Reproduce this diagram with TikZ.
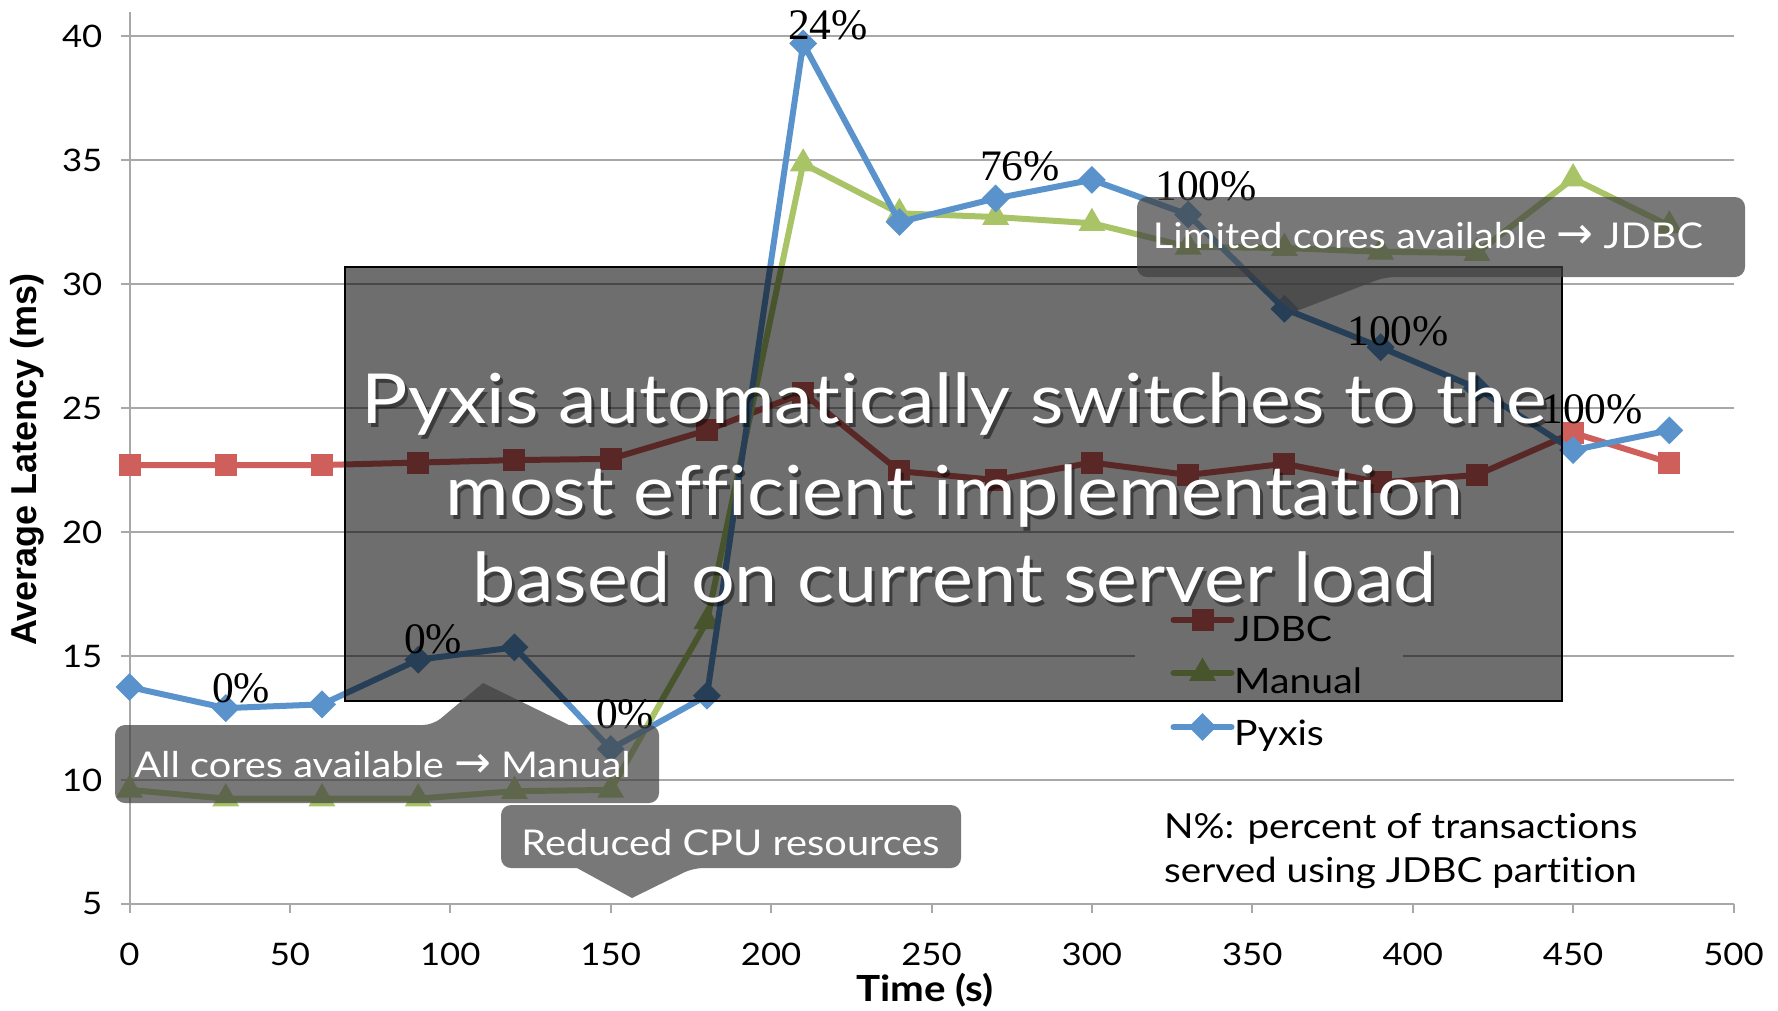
\documentclass[tikz,border=0pt]{standalone}
\usepackage{fontspec}
\setmainfont{Lato}[FakeStretch=1.12, Ligatures=NoCommon]
\newfontfamily\serifnum{Liberation Serif}
\newfontfamily\boldsans{Liberation Sans}
\newfontfamily\arrowfont{DejaVu Sans}
\usetikzlibrary{shapes.geometric}

\definecolor{gridgray}{HTML}{A8A8A8}
\definecolor{jdbcred}{HTML}{CF5F5A}
\definecolor{manualgreen}{HTML}{A8C466}
\definecolor{pyxisblue}{HTML}{5A93CB}

\newcommand\fs[1]{\fontsize{#1}{#1}\selectfont}
\newcommand\rarr{{\arrowfont\fontsize{44}{44}\selectfont\char"2192}}

\tikzset{
  gridline/.style={draw=gridgray, line width=2pt},
  axisline/.style={draw=gridgray, line width=2pt},
  ticklab/.style={inner sep=0pt, font=\fs{31}},
  series/.style={draw=#1, line width=6pt, line join=round},
  sqmark/.style={rectangle, fill=jdbcred, minimum size=22pt, inner sep=0pt},
  trimark/.style={regular polygon, regular polygon sides=3, fill=manualgreen,
    minimum size=31pt, inner sep=0pt},
  dimark/.style={diamond, fill=pyxisblue, minimum size=28pt, inner sep=0pt},
  pct/.style={inner sep=0pt, anchor=base, font=\serifnum\fs{43.5}},
  legtext/.style={inner sep=0pt, anchor=base west, font=\fs{35}},
  bigbox/.style={fill=black, fill opacity=0.57, draw=black, draw opacity=1,
    line width=2pt, inner sep=0pt},
  callout/.style={fill=black!75, fill opacity=0.7, rounded corners=10pt},
  callouttext/.style={inner sep=0pt, anchor=base, text=white, font=\fs{35.5}},
  bigtext/.style={inner sep=0pt, anchor=base, text=white, font=\fs{69}},
  bigshadow/.style={inner sep=0pt, anchor=base, text=black, text opacity=0.45, font=\fs{69}},
  note/.style={inner sep=0pt, anchor=base west, font=\fs{34.5}},
}

\begin{document}
\begin{tikzpicture}[x=1pt, y=-1pt]
\useasboundingbox (0,0) rectangle (1778,1010);
\fill[white] (0,0) rectangle (1778,1010);

% ---------- chart in data units: time (s) across, latency (ms) up ----------
\begin{scope}[shift={(129.5,1028)}, x=3.208pt, y=24.8pt]
  \foreach \v in {10,15,...,40} \draw[gridline] (0,\v) -- (500,\v);
  \draw[axisline] (0,5) -- (500,5);
  \draw[axisline] (0,5) -- (0,40.97);
  \foreach \v in {5,10,...,40} {
    \draw[axisline] (0,\v) -- ++(-9pt,0);
    \node[ticklab, anchor=east] (yl\v) at ([xshift=-27pt]0,\v) {\v};
  }
  \foreach \t in {0,50,...,500} {
    \draw[axisline] (\t,5) -- ++(0,-9pt);
    \node[ticklab] (xl\t) at ([yshift=-50pt]\t,5) {\t};
  }

  % samples every 30 s
  \foreach \v [count=\i from 0] in {22.7,22.7,22.7,22.8,22.9,22.95,24.1,25.6,22.45,22.1,22.8,22.3,22.75,22.0,22.3,24.0,22.8}
    \coordinate (J\i) at (30*\i,\v);
  \foreach \v [count=\i from 0] in {9.6,9.25,9.25,9.25,9.55,9.6,16.4,34.85,32.85,32.7,32.45,31.5,31.45,31.3,31.25,34.25,32.35}
    \coordinate (M\i) at (30*\i,\v);
  \foreach \v [count=\i from 0] in {13.75,12.9,13.05,14.85,15.35,11.25,13.4,39.7,32.5,33.45,34.2,32.8,29.0,27.45,25.8,23.3,24.1}
    \coordinate (P\i) at (30*\i,\v);

  \draw[series=jdbcred] (J0) \foreach \i in {1,...,16} { -- (J\i) };
  \foreach \i in {0,...,16} \node[sqmark] (Jm\i) at (J\i) {};
  \draw[series=manualgreen] (M0) \foreach \i in {1,...,16} { -- (M\i) };
  \foreach \i in {0,...,16} \node[trimark] (Mm\i) at (M\i) {};
  \draw[series=pyxisblue] (P0) \foreach \i in {1,...,16} { -- (P\i) };
  \foreach \i in {0,...,16} \node[dimark] (Pm\i) at (P\i) {};
\end{scope}

% ---------- share of JDBC transactions ----------
\node[pct] (pa) at (241,702) {0\%};
\node[pct] (pb) at (433,653) {0\%};
\node[pct] (pc) at (625,728) {0\%};
\node[pct] (pd) at (828,39) {24\%};
\node[pct] (pe) at (1020,180) {76\%};
\node[pct] (pf) at (1206,200) {100\%};
\node[pct] (pg) at (1398,345) {100\%};
\node[pct] (ph) at (1592,423) {100\%};

% ---------- legend ----------
\node[fill=white, inner sep=0pt, minimum width=268pt, minimum height=160pt, anchor=north west] (legbg) at (1135,605) {};
\coordinate (lj) at (1202.5,620);
\coordinate (lm) at (1202.5,673);
\coordinate (lp) at (1202.5,727);
\draw[series=jdbcred, line cap=round] ([xshift=-29pt]lj) -- ([xshift=29pt]lj);
\node[sqmark] (ljm) at (lj) {};
\draw[series=manualgreen, line cap=round] ([xshift=-29pt]lm) -- ([xshift=29pt]lm);
\node[trimark] (lmm) at (lm) {};
\draw[series=pyxisblue, line cap=round] ([xshift=-29pt]lp) -- ([xshift=29pt]lp);
\node[dimark] (lpm) at (lp) {};
\node[legtext] (ljt) at (1234,641) {JDBC};
\node[legtext] (lmt) at (1234,693) {Manual};
\node[legtext] (lpt) at (1234,745) {Pyxis};

% ---------- axis titles ----------
\node[rotate=90, inner sep=0pt, font=\boldsans\bfseries\fs{36}] (ytitle) at (27,459.5) {Average Latency (ms)};
\node[inner sep=0pt, anchor=base, font=\bfseries\fs{36}] (xtitle) at (925,1001) {Time (s)};

% ---------- note ----------
\node[note] (n1) at (1164,838) {N\%: percent of transactions};
\node[note] (n2) at (1164,882) {served using JDBC partition};

% ---------- message box ----------
\node[bigbox, anchor=north west, minimum width=1217pt, minimum height=434pt] (msg) at (344,266) {};
\foreach \txt/\y [count=\k] in {Pyxis automatically switches to the/423, most efficient implementation/515, based on current server load/602} {
  \node[bigshadow] (ms\k) at (957.5,\y+4) {\txt};
  \node[bigtext] (mt\k) at (954.5,\y) {\txt};
}

% ---------- callouts ----------
\fill[callout] (1137,237) |- (1745,197) |- (1385,277) [sharp corners] -- (1294,312) -- (1251,277) [rounded corners=10pt] -| (1137,237) -- cycle;
\fill[callout] (115,764) |- (433,725) [sharp corners] -- (483,683) -- (569,725) [rounded corners=10pt] -| (659,803) -| (115,764) -- cycle;
\fill[callout] (501,836) |- (961,805) |- (693,868) [sharp corners] -- (632,898) -- (577,868) [rounded corners=10pt] -| (501,836) -- cycle;
\node[callouttext] (c1) at (1428,248) {Limited cores available \rarr{} JDBC};
\node[callouttext] (c2) at (382.5,777) {All cores available \rarr{} Manual};
\node[callouttext] (c3) at (730.5,855) {Reduced CPU resources};
\end{tikzpicture}
\end{document}
